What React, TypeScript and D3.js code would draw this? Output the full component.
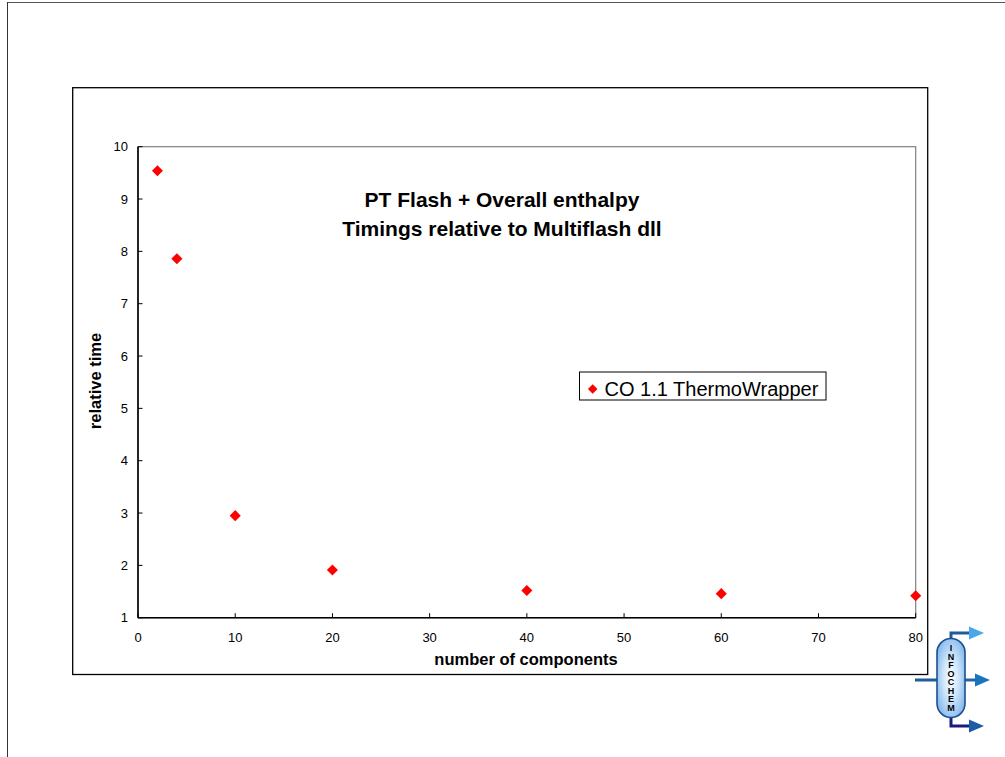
import React, { useEffect } from "react";
import * as d3 from "d3";

const components = [2, 4, 10, 20, 40, 60, 80];
const relativeTime = [9.54, 7.86, 2.95, 1.91, 1.52, 1.46, 1.42];
const xTicks = [0, 10, 20, 30, 40, 50, 60, 70, 80];
const yTicks = [1, 2, 3, 4, 5, 6, 7, 8, 9, 10];
const titleLines = ["PT Flash + Overall enthalpy", "Timings relative to Multiflash dll"];
const seriesName = "CO 1.1 ThermoWrapper";
const xTitle = "number of components";
const yTitle = "relative time";
const logoWord = "INFOCHEM";

const FONT = "'Liberation Sans', Arial, sans-serif";

export default function App() {
  useEffect(() => {
    document.body.style.margin = "0";
  }, []);

  const W = 1005, H = 757;
  const plot = { left: 138, right: 915.7, top: 146.7, bottom: 617.7 };
  const x = d3.scaleLinear().domain([0, 80]).range([plot.left, plot.right]);
  const y = d3.scaleLinear().domain([1, 10]).range([plot.bottom, plot.top]);
  const diamond = d3.symbol().type(d3.symbolDiamond2).size(78)();
  const legendDiamond = d3.symbol().type(d3.symbolDiamond2).size(58)();

  return (
    <svg width={W} height={H} style={{ position: "absolute", left: 0, top: 0, display: "block" }} fontFamily={FONT}>
      <defs>
        <radialGradient id="vesselGrad" cx="50%" cy="50%" r="60%">
          <stop offset="0%" stopColor="#ffffff" />
          <stop offset="45%" stopColor="#cfe6fb" />
          <stop offset="100%" stopColor="#7fb6ea" />
        </radialGradient>
      </defs>
      <rect x={0} y={0} width={W} height={H} fill="#fff" />
      {/* page frame */}
      <line x1={7} y1={2.5} x2={W} y2={2.5} stroke="#555" strokeWidth={1} />
      <line x1={7.5} y1={2} x2={7.5} y2={H} stroke="#333" strokeWidth={1} />
      {/* chart area */}
      <rect x={72.7} y={87.7} width={855} height={586.8} fill="#fff" stroke="#000" strokeWidth={1.3} />
      {/* plot area border */}
      <rect x={plot.left} y={plot.top} width={plot.right - plot.left} height={plot.bottom - plot.top} fill="#fff" stroke="#808080" strokeWidth={1.2} />
      {/* axes */}
      <line x1={plot.left} y1={plot.top} x2={plot.left} y2={plot.bottom} stroke="#000" strokeWidth={1.6} />
      <line x1={plot.left} y1={plot.bottom} x2={plot.right} y2={plot.bottom} stroke="#000" strokeWidth={1.6} />
      {xTicks.map((t) => (
        <g key={"xt" + t}>
          <line x1={x(t)} x2={x(t)} y1={plot.bottom} y2={plot.bottom - 4.5} stroke="#000" strokeWidth={1} />
          <text x={x(t)} y={642} textAnchor="middle" fontSize={13} fill="#000">{t}</text>
        </g>
      ))}
      {yTicks.map((t) => (
        <g key={"yt" + t}>
          <line x1={plot.left} x2={plot.left + 4.5} y1={y(t)} y2={y(t)} stroke="#000" strokeWidth={1} />
          <text x={128} y={y(t) + 4.6} textAnchor="end" fontSize={13} fill="#000">{t}</text>
        </g>
      ))}
      {/* axis titles */}
      <text x={526} y={665} textAnchor="middle" fontSize={16.5} fontWeight="bold" fill="#000">{xTitle}</text>
      <text transform={`translate(101,381) rotate(-90)`} textAnchor="middle" fontSize={16.5} fontWeight="bold" fill="#000">{yTitle}</text>
      {/* title */}
      {titleLines.map((line, i) => (
        <text key={line} x={502} y={206.5 + i * 29.5} textAnchor="middle" fontSize={21} fontWeight="bold" fill="#000">{line}</text>
      ))}
      {/* points */}
      {components.map((c, i) => (
        <path key={"p" + c} d={diamond} transform={`translate(${x(c)},${y(relativeTime[i])})`} fill="#ff0000" />
      ))}
      {/* legend */}
      <rect x={579.5} y={372} width={246.5} height={28} fill="#fff" stroke="#000" strokeWidth={1} />
      <path d={legendDiamond} transform="translate(592.7,389)" fill="#ff0000" />
      <text x={604.5} y={395.5} fontSize={20} fill="#000">{seriesName}</text>
      {/* INFOCHEM logo */}
      <g>
        <line x1={915} y1={680} x2={938} y2={680} stroke="#1f5c99" strokeWidth={3} />
        <path d="M951,640 L951,633 L970,633" fill="none" stroke="#1f5c99" strokeWidth={3} />
        <path d="M969,626.5 L984,633 L969,639.5 Z" fill="#4aa8ea" />
        <line x1={964} y1={680} x2={976} y2={680} stroke="#1f66a8" strokeWidth={3} />
        <path d="M975,673.5 L990,680 L975,686.5 Z" fill="#1a75bb" />
        <path d="M951,716 L951,726 L970,726" fill="none" stroke="#1a1a80" strokeWidth={3} />
        <path d="M969,719.5 L984,726 L969,732.5 Z" fill="#1a5ca8" />
        <rect x={937} y={638.5} width={28} height={79} rx={14} ry={14} fill="url(#vesselGrad)" stroke="#1f4f8f" strokeWidth={1.6} />
        <text
          x={951}
          y={643}
          fontSize={9}
          fontWeight="bold"
          fill="#000"
          textLength={70}
          lengthAdjust="spacing"
          style={{ writingMode: "vertical-rl", textOrientation: "upright" } as React.CSSProperties}
        >
          {logoWord}
        </text>
      </g>
    </svg>
  );
}
